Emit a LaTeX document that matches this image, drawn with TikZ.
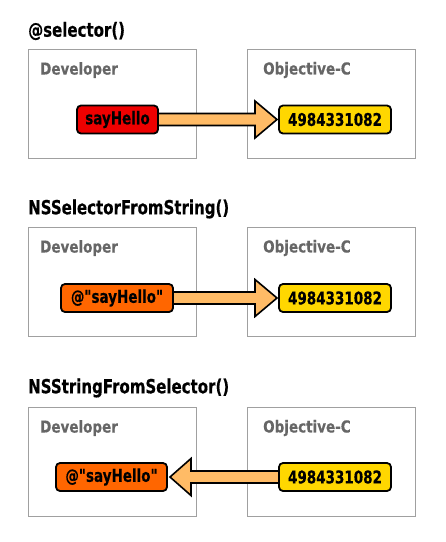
\documentclass[tikz,border=0pt]{standalone}
\usepackage{fontspec}
\newfontfamily\vfont{DejaVu Sans}[BoldFeatures={FakeBold=0.4}]
\usetikzlibrary{calc}
\definecolor{framegray}{HTML}{A0A0A0}
\definecolor{lblgray}{HTML}{666666}
\definecolor{redbox}{HTML}{EE0000}
\definecolor{orangebox}{HTML}{FF6600}
\definecolor{yellowbox}{HTML}{FFD700}
\definecolor{arrowfill}{HTML}{FFBB66}
\newcommand{\vstr}[1]{\scalebox{1}[1.3]{#1}}
\newcommand{\vstrl}[1]{\scalebox{1}[1.22]{#1}}
\begin{document}
\begin{tikzpicture}[x=1pt,y=-1pt,
  panel/.style={draw=framegray, line width=1.2pt, minimum width=168pt, minimum height=109pt, inner sep=0pt, anchor=north west},
  titletext/.style={anchor=west, inner sep=0pt, font=\vfont\fontsize{15}{18}\selectfont\bfseries},
  paneltext/.style={anchor=west, inner sep=0pt, text=lblgray, font=\vfont\fontsize{13.5}{16}\selectfont\bfseries},
  valbox/.style={draw=black, line width=1.8pt, rounded corners=4pt, minimum height=28pt, inner sep=0pt, font=\vfont\fontsize{13.5}{16}\selectfont\bfseries},
  bigarrow/.style={draw=black, fill=arrowfill, line width=1.6pt, line join=miter}
]
\useasboundingbox (0,0) rectangle (446,542);

% Section 1
\node[titletext] (t1) at (28,31) {\vstr{@selector()}};
\node[panel] (d1) at (28,49) {};
\node[panel] (o1) at (247,49) {};
\node[paneltext] (dl1) at (40,70) {\vstrl{Developer}};
\node[paneltext] (ol1) at (263,70) {\vstrl{Objective-C}};

% Section 2
\node[titletext] (t2) at (28,209) {\vstr{NSSelectorFromString()}};
\node[panel] (d2) at (28,227) {};
\node[panel] (o2) at (247,227) {};
\node[paneltext] (dl2) at (40,248) {\vstrl{Developer}};
\node[paneltext] (ol2) at (263,248) {\vstrl{Objective-C}};

% Section 3
\node[titletext] (t3) at (28,388) {\vstr{NSStringFromSelector()}};
\node[panel] (d3) at (28,407) {};
\node[panel] (o3) at (247,407) {};
\node[paneltext] (dl3) at (40,428) {\vstrl{Developer}};
\node[paneltext] (ol3) at (263,428) {\vstrl{Objective-C}};

% coordinates for value boxes
\coordinate (c1a) at (117.5,119.5);
\coordinate (c1b) at (335,119.5);
\coordinate (c2a) at (117,298);
\coordinate (c2b) at (335,298);
\coordinate (c3a) at (111.5,477);
\coordinate (c3b) at (335,477);

% arrows (drawn first, boxes on top)
\path (c1a) ++(40.5,0) coordinate (a1s);
\path (c1b) ++(-56,0) coordinate (a1e);
\draw[bigarrow] ($(a1s)+(0,-6)$) -- ($(a1e)+(-24,-6)$) -- ($(a1e)+(-24,-18.5)$) -- ($(a1e)+(-2,0)$) -- ($(a1e)+(-24,18.5)$) -- ($(a1e)+(-24,6)$) -- ($(a1s)+(0,6)$);

\path (c2a) ++(56,0) coordinate (a2s);
\path (c2b) ++(-56,0) coordinate (a2e);
\draw[bigarrow] ($(a2s)+(0,-6)$) -- ($(a2e)+(-24,-6)$) -- ($(a2e)+(-24,-18.5)$) -- ($(a2e)+(-2,0)$) -- ($(a2e)+(-24,18.5)$) -- ($(a2e)+(-24,6)$) -- ($(a2s)+(0,6)$);

\path (c3b) ++(-56,0) coordinate (a3s);
\path (c3a) ++(55.5,0) coordinate (a3e);
\draw[bigarrow] ($(a3s)+(0,-6)$) -- ($(a3e)+(24,-6)$) -- ($(a3e)+(24,-18.5)$) -- ($(a3e)+(3,0)$) -- ($(a3e)+(24,18.5)$) -- ($(a3e)+(24,6)$) -- ($(a3s)+(0,6)$);

% value boxes
\node[valbox, fill=redbox, minimum width=81pt] (v1a) at (c1a) {\vstr{sayHello}};
\node[valbox, fill=yellowbox, minimum width=112pt] (v1b) at (c1b) {\vstr{4984331082}};
\node[valbox, fill=orangebox, minimum width=112pt] (v2a) at (c2a) {\vstr{@"sayHello"}};
\node[valbox, fill=yellowbox, minimum width=112pt] (v2b) at (c2b) {\vstr{4984331082}};
\node[valbox, fill=orangebox, minimum width=111pt] (v3a) at (c3a) {\vstr{@"sayHello"}};
\node[valbox, fill=yellowbox, minimum width=112pt] (v3b) at (c3b) {\vstr{4984331082}};
\end{tikzpicture}
\end{document}
